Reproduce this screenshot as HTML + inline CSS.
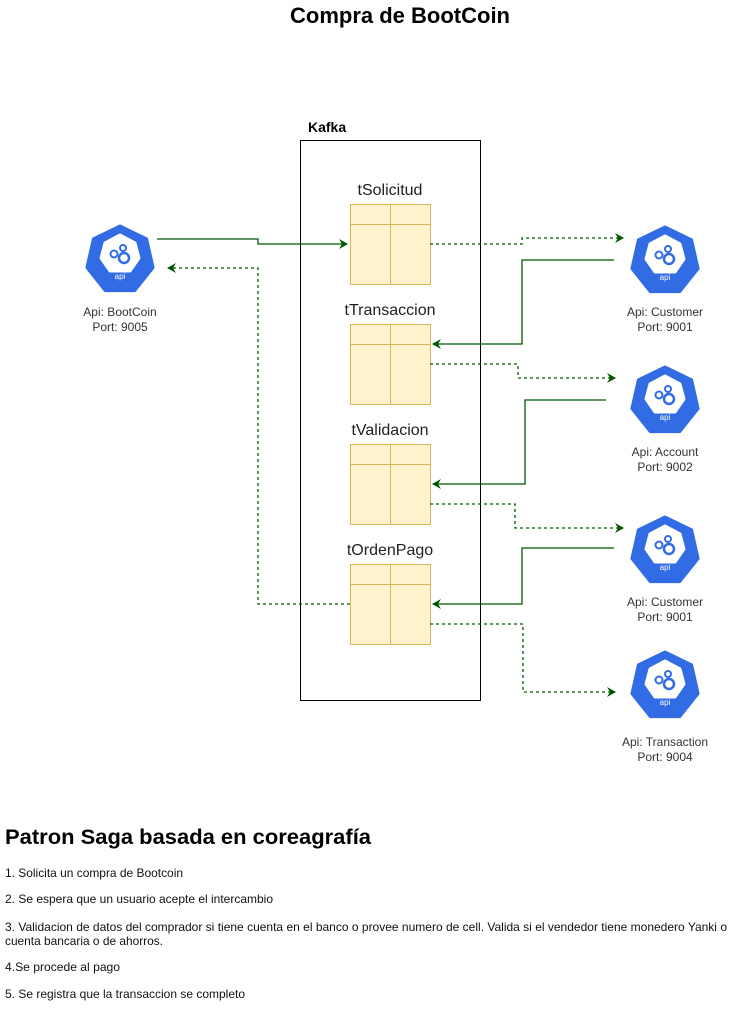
<!DOCTYPE html>
<html><head><meta charset="utf-8"><style>
html,body{margin:0;padding:0;background:#fff;}
svg{display:block;}
text{font-family:"Liberation Sans",Arial,sans-serif;}
</style></head><body>
<svg width="736" height="1027" viewBox="0 0 736 1027" xmlns="http://www.w3.org/2000/svg">
<defs>
<marker id="ah" markerWidth="10" markerHeight="10" refX="8" refY="5" orient="auto" markerUnits="userSpaceOnUse">
<path d="M0,0 L9,5 L0,10 L3,5 Z" fill="#005700"/>
</marker>
<g id="icon">
<polygon points="0,-34 26.6,-21.2 33.1,7.6 14.8,30.6 -14.8,30.6 -33.1,7.6 -26.6,-21.2" fill="#326CE5" stroke="#326CE5" stroke-width="3" stroke-linejoin="round"/>
<polygon points="0,-25 15,-17 19,-2 10,11 -10,11 -19,-2 -15,-17" fill="#fff" stroke="#fff" stroke-width="3" stroke-linejoin="round"/>
<circle cx="-6" cy="-6" r="3.5" fill="none" stroke="#326CE5" stroke-width="2"/>
<circle cx="3" cy="-12" r="3" fill="none" stroke="#326CE5" stroke-width="2"/>
<circle cx="4" cy="-2" r="5" fill="none" stroke="#326CE5" stroke-width="2.5"/>
</g>
</defs>

<text x="400" y="23" font-size="22" font-weight="bold" text-anchor="middle">Compra de BootCoin</text>
<text x="308" y="132" font-size="14" font-weight="bold">Kafka</text>
<rect x="300.5" y="140.5" width="180" height="560" fill="none" stroke="#000" stroke-width="1"/>

<g fill="#fff2cc" stroke="#d6b656" stroke-width="1">
<rect x="350.5" y="204.5" width="80" height="80"/><line x1="350.5" y1="224.5" x2="430.5" y2="224.5"/><line x1="390.5" y1="204.5" x2="390.5" y2="284.5"/>
<rect x="350.5" y="324.5" width="80" height="80"/><line x1="350.5" y1="344.5" x2="430.5" y2="344.5"/><line x1="390.5" y1="324.5" x2="390.5" y2="404.5"/>
<rect x="350.5" y="444.5" width="80" height="80"/><line x1="350.5" y1="464.5" x2="430.5" y2="464.5"/><line x1="390.5" y1="444.5" x2="390.5" y2="524.5"/>
<rect x="350.5" y="564.5" width="80" height="80"/><line x1="350.5" y1="584.5" x2="430.5" y2="584.5"/><line x1="390.5" y1="564.5" x2="390.5" y2="644.5"/>
</g>
<g font-size="16" fill="#222" text-anchor="middle">
<text x="390" y="195">tSolicitud</text>
<text x="390" y="315">tTransaccion</text>
<text x="390" y="435">tValidacion</text>
<text x="390" y="555">tOrdenPago</text>
</g>

<g fill="none" stroke="#005700" stroke-width="1.3">
<polyline points="157,239 258,239 258,244 347,244" marker-end="url(#ah)"/>
<polyline points="614,260 522,260 522,344 433,344" marker-end="url(#ah)"/>
<polyline points="606,400 525,400 525,484 433,484" marker-end="url(#ah)"/>
<polyline points="614,548 522,548 522,604 433,604" marker-end="url(#ah)"/>
</g>
<g fill="none" stroke="#005700" stroke-width="1.3" stroke-dasharray="3 3">
<polyline points="350,604 258,604 258,268 168,268" marker-end="url(#ah)"/>
<polyline points="430,244 522,244 522,238 623,238" marker-end="url(#ah)"/>
<polyline points="430,364 518,364 518,378 615,378" marker-end="url(#ah)"/>
<polyline points="430,504 515,504 515,528 623,528" marker-end="url(#ah)"/>
<polyline points="430,624 523,624 523,692 615,692" marker-end="url(#ah)"/>
</g>

<use href="#icon" x="120" y="260"/>
<use href="#icon" x="665" y="261"/>
<use href="#icon" x="665" y="401"/>
<use href="#icon" x="665" y="551"/>
<use href="#icon" x="665" y="686"/>
<g font-size="8" fill="#fff" text-anchor="middle">
<text x="120" y="279">api</text>
<text x="665" y="280">api</text>
<text x="665" y="420">api</text>
<text x="665" y="570">api</text>
<text x="665" y="705">api</text>
</g>
<g font-size="12" fill="#333" text-anchor="middle">
<text x="120" y="316">Api: BootCoin</text><text x="120" y="331">Port: 9005</text>
<text x="665" y="316">Api: Customer</text><text x="665" y="331">Port: 9001</text>
<text x="665" y="456">Api: Account</text><text x="665" y="471">Port: 9002</text>
<text x="665" y="606">Api: Customer</text><text x="665" y="621">Port: 9001</text>
<text x="665" y="746">Api: Transaction</text><text x="665" y="761">Port: 9004</text>
</g>

<text x="5" y="844" font-size="21" font-weight="bold" textLength="366" lengthAdjust="spacingAndGlyphs">Patron Saga basada en coreagrafía</text>
<g font-size="12" fill="#111">
<text x="5" y="877" textLength="178" lengthAdjust="spacingAndGlyphs">1. Solicita un compra de Bootcoin</text>
<text x="5" y="903" textLength="268" lengthAdjust="spacingAndGlyphs">2. Se espera que un usuario acepte el intercambio</text>
<text x="5" y="931" textLength="722" lengthAdjust="spacingAndGlyphs">3. Validacion de datos del comprador si tiene cuenta en el banco o provee numero de cell. Valida si el vendedor tiene monedero Yanki o</text>
<text x="5" y="945" textLength="158" lengthAdjust="spacingAndGlyphs">cuenta bancaria o de ahorros.</text>
<text x="5" y="971" textLength="115" lengthAdjust="spacingAndGlyphs">4.Se procede al pago</text>
<text x="5" y="998" textLength="240" lengthAdjust="spacingAndGlyphs">5. Se registra que la transaccion se completo</text>
</g>
</svg>
</body></html>
